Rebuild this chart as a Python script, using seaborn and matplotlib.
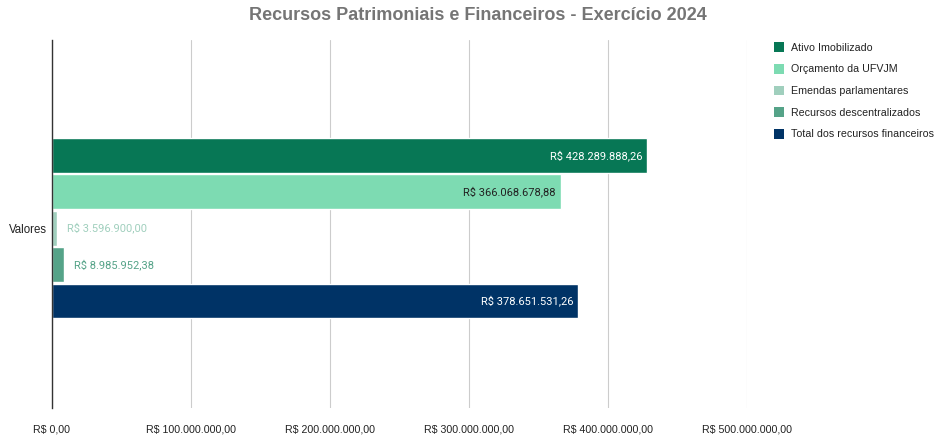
import pandas as pd
import numpy as np
import seaborn as sns
import matplotlib.pyplot as plt
from matplotlib.ticker import FuncFormatter
from matplotlib.patches import Patch

categorias = ['Ativo Imobilizado', 'Orçamento da UFVJM', 'Emendas parlamentares',
              'Recursos descentralizados', 'Total dos recursos financeiros']
valores = [428289888.26, 366068678.88, 3596900.00, 8985952.38, 378651531.26]
cores = ['#077755', '#7ddbb2', '#a0cfbd', '#55a388', '#003366']
rotulos = ['R$ 428.289.888,26', 'R$ 366.068.678,88', 'R$ 3.596.900,00',
           'R$ 8.985.952,38', 'R$ 378.651.531,26']
cor_rotulo = ['white', '#222222', '#a0cfbd', '#55a388', 'white']
dentro = [True, True, False, False, True]
xticks = [0, 100e6, 200e6, 300e6, 400e6, 500e6]

df = pd.DataFrame({'grupo': 'Valores', 'categoria': categorias, 'valor': valores})

sns.set_style('white')
plt.rcParams['font.family'] = ['Liberation Sans', 'DejaVu Sans']

fig = plt.figure(figsize=(9.35, 4.36), dpi=100)
ax = fig.add_axes([0.0556, 0.064, 0.743, 0.844])
sns.barplot(data=df, y='grupo', x='valor', hue='categoria', hue_order=categorias,
            palette=cores, orient='h', width=0.495, gap=0.04, ax=ax, legend=False,
            saturation=1, err_kws={'linewidth': 0})

def brl(v, pos):
    s = f'{v:,.2f}'.replace(',', 'X').replace('.', ',').replace('X', '.')
    return 'R$ ' + s

ax.set_xlim(0, 500e6)
ax.set_ylim(0.489, -0.511)
ax.set_xticks(xticks)
ax.xaxis.set_major_formatter(FuncFormatter(brl))
ax.tick_params(axis='x', length=0, labelsize=7.7, colors='#222222', pad=12)
ax.tick_params(axis='y', length=0, labelsize=8.3, colors='#222222')
ax.set_xlabel('')
ax.set_ylabel('')
ax.grid(axis='x', color='#cccccc', linewidth=0.8)
ax.set_axisbelow(True)
for s in ['top', 'right', 'bottom']:
    ax.spines[s].set_visible(False)
ax.spines['left'].set_color('#333333')
ax.spines['left'].set_linewidth(1)

for bar, txt, c, d in zip(ax.patches, rotulos, cor_rotulo, dentro):
    w = bar.get_width()
    yc = bar.get_y() + bar.get_height() / 2
    if d:
        ax.text(w - 3.5e6, yc, txt, ha='right', va='center', color=c,
                fontsize=8, family=['Roboto', 'DejaVu Sans'])
    else:
        ax.text(w + 7e6, yc, txt, ha='left', va='center', color=c,
                fontsize=8, family=['Roboto', 'DejaVu Sans'])

handles = [Patch(facecolor=c, edgecolor='none') for c in cores]
fig.legend(handles, categorias, loc='upper left', bbox_to_anchor=(0.817, 0.925),
           frameon=False, fontsize=7.7, handlelength=1.0, handleheight=1.0,
           handletextpad=0.6, labelspacing=1.05, labelcolor='#222222')

fig.suptitle('Recursos Patrimoniais e Financeiros - Exercício 2024', x=0.511, y=0.985,
             fontsize=13, fontweight='bold', color='#757575')

fig.savefig('out.png', dpi=100)
